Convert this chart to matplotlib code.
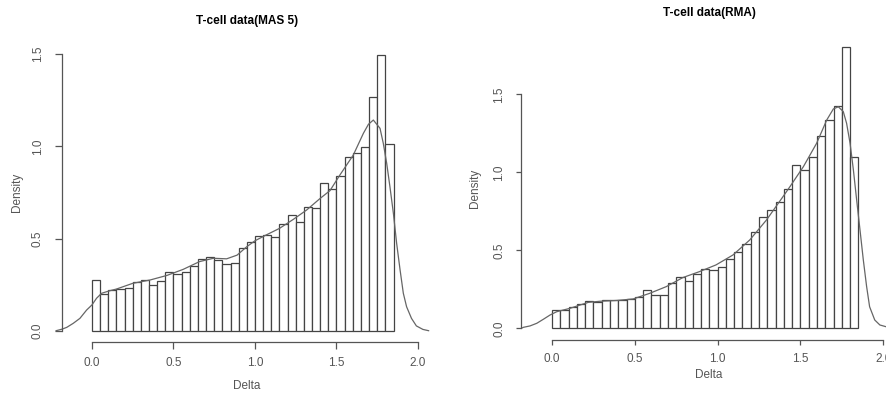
import matplotlib
matplotlib.use("Agg")
import matplotlib.pyplot as plt
import numpy as np

bin_width = 0.05

# T-cell data (MAS 5)
mas5_hist = [0.275, 0.197, 0.22, 0.226, 0.23, 0.266, 0.275, 0.25, 0.27, 0.32,
             0.305, 0.32, 0.35, 0.39, 0.40, 0.383, 0.36, 0.37, 0.447, 0.48,
             0.515, 0.52, 0.51, 0.577, 0.63, 0.588, 0.67, 0.664, 0.80, 0.767,
             0.84, 0.944, 0.963, 0.995, 1.27, 1.496, 1.011]
mas5_dens_x = [-0.22, -0.185, -0.155, -0.115, -0.074, -0.033, 0.0, 0.028, 0.059, 0.11,
               0.15, 0.25, 0.356, 0.46, 0.56, 0.66, 0.745, 0.826, 0.89, 0.95,
               1.0, 1.07, 1.15, 1.235, 1.317, 1.40, 1.46, 1.521, 1.603, 1.665,
               1.696, 1.726, 1.767, 1.787, 1.808, 1.828, 1.849, 1.869, 1.89, 1.91,
               1.93, 1.96, 1.99, 2.03, 2.065]
mas5_dens_y = [0.0, 0.008, 0.018, 0.04, 0.067, 0.112, 0.14, 0.176, 0.203, 0.217,
               0.226, 0.257, 0.275, 0.30, 0.333, 0.375, 0.393, 0.39, 0.41, 0.456,
               0.488, 0.52, 0.555, 0.604, 0.655, 0.718, 0.76, 0.845, 0.953, 1.071,
               1.12, 1.143, 1.098, 1.017, 0.908, 0.78, 0.637, 0.474, 0.33, 0.203,
               0.13, 0.067, 0.026, 0.007, 0.0]

# T-cell data (RMA)
rma_hist = [0.12, 0.12, 0.135, 0.156, 0.177, 0.171, 0.18, 0.18, 0.18, 0.186,
            0.199, 0.246, 0.214, 0.214, 0.288, 0.327, 0.306, 0.345, 0.378, 0.374,
            0.39, 0.442, 0.487, 0.54, 0.615, 0.713, 0.756, 0.81, 0.89, 1.045,
            1.015, 1.097, 1.23, 1.337, 1.425, 1.80, 1.096]
rma_dens_x = [-0.185, -0.173, -0.133, -0.092, -0.052, -0.012, 0.028, 0.068, 0.109, 0.169,
              0.219, 0.288, 0.389, 0.49, 0.59, 0.69, 0.79, 0.89, 0.99, 1.093,
              1.194, 1.295, 1.395, 1.437, 1.518, 1.598, 1.659, 1.699, 1.729, 1.759,
              1.779, 1.80, 1.82, 1.84, 1.86, 1.88, 1.90, 1.918, 1.949, 1.98,
              2.017]
rma_dens_y = [0.0, 0.006, 0.015, 0.032, 0.058, 0.085, 0.106, 0.117, 0.128, 0.149,
              0.166, 0.173, 0.178, 0.188, 0.224, 0.267, 0.325, 0.363, 0.406, 0.47,
              0.566, 0.694, 0.844, 0.908, 1.036, 1.186, 1.335, 1.406, 1.42, 1.389,
              1.314, 1.186, 1.015, 0.82, 0.63, 0.438, 0.267, 0.138, 0.053, 0.021,
              0.01]

x_ticks = [0.0, 0.5, 1.0, 1.5, 2.0]
y_ticks = [0.0, 0.5, 1.0, 1.5]

grey = "#555555"
edge = "#444444"
font = "Liberation Sans"


def draw_panel(ax, heights, dens_x, dens_y, yaxis_x, xaxis_y, tick_len):
    starts = np.arange(len(heights)) * bin_width
    ax.bar(starts, heights, width=bin_width, align="edge", color="white",
           edgecolor=edge, linewidth=0.9)
    ax.plot(dens_x, dens_y, color="#666666", linewidth=0.9, clip_on=False)

    for s in ["top", "right"]:
        ax.spines[s].set_visible(False)
    ax.spines["left"].set_position(("data", yaxis_x))
    ax.spines["left"].set_bounds(0, 1.5)
    ax.spines["bottom"].set_position(("data", xaxis_y))
    ax.spines["bottom"].set_bounds(0, 2.0)
    for s in ["left", "bottom"]:
        ax.spines[s].set_color(grey)
        ax.spines[s].set_linewidth(0.9)

    ax.set_xticks(x_ticks)
    ax.set_xticklabels(["%.1f" % v for v in x_ticks], family=font)
    ax.set_yticks(y_ticks)
    ax.set_yticklabels(["%.1f" % v for v in y_ticks], rotation=90, va="center",
                       family=font)
    ax.tick_params(direction="out", length=tick_len, width=0.9, color=grey,
                   labelcolor=grey, labelsize=8.5)
    ax.tick_params(axis="x", pad=6)
    ax.tick_params(axis="y", pad=8)


def main():
    fig = plt.figure(figsize=(8.86, 3.93), dpi=100)

    ax1 = fig.add_axes([0.0615, 0.1257, 0.425, 0.7644])
    draw_panel(ax1, mas5_hist, mas5_dens_x, mas5_dens_y, -0.184, -0.06, 5)
    ax1.set_xlim(-0.23, 2.08)
    ax1.set_ylim(-0.07, 1.56)

    ax2 = fig.add_axes([0.5857, 0.129, 0.4143, 0.77])
    draw_panel(ax2, rma_hist, rma_dens_x, rma_dens_y, -0.185, -0.075, 3.6)
    ax2.set_xlim(-0.2, 2.017)
    ax2.set_ylim(-0.09, 1.85)

    H = 393.0
    W = 886.0
    fig.text(247 / W, 1 - 21 / H, "T-cell data(MAS 5)", ha="center", va="center",
             fontsize=8.5, fontweight="bold", family=font)
    fig.text(709 / W, 1 - 13 / H, "T-cell data(RMA)", ha="center", va="center",
             fontsize=8.5, fontweight="bold", family=font)
    fig.text(247 / W, 1 - 386 / H, "Delta", ha="center", va="center",
             fontsize=8.5, color=grey, family=font)
    fig.text(709 / W, 1 - 375 / H, "Delta", ha="center", va="center",
             fontsize=8.5, color=grey, family=font)
    fig.text(17 / W, 1 - 192 / H, "Density", ha="center", va="center",
             fontsize=8.5, color=grey, rotation=90, family=font)
    fig.text(475 / W, 1 - 188 / H, "Density", ha="center", va="center",
             fontsize=8.5, color=grey, rotation=90, family=font)

    fig.savefig("out.png", dpi=100)
    return 0


main()
